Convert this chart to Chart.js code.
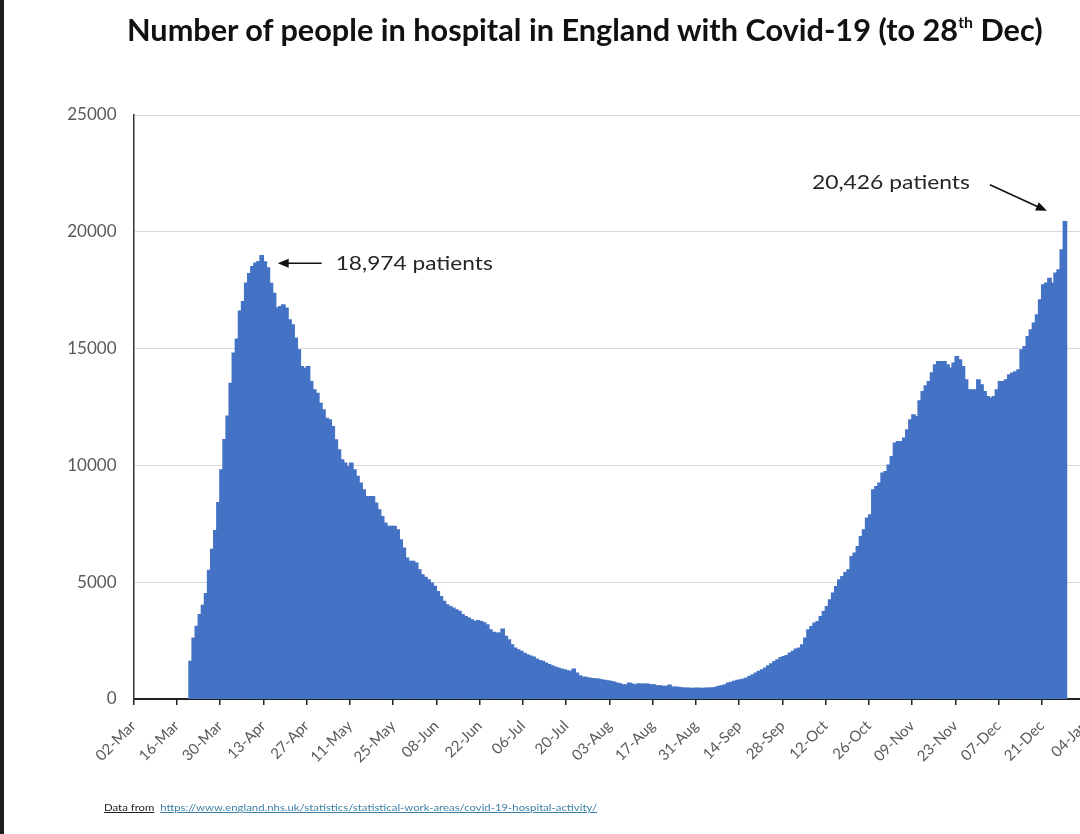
<!DOCTYPE html>
<html>
<head>
<meta charset="utf-8">
<script src="https://cdn.jsdelivr.net/npm/chart.js@4"></script>
<style>
  html, body { margin:0; padding:0; width:1080px; height:834px; overflow:hidden; background:#ffffff; }
  #wrap { position:absolute; left:0; top:0; width:1100px; height:834px; }
  #title { position:absolute; left:127px; top:14px; font-family:Lato, 'Open Sans', sans-serif; font-weight:700; font-size:31px; line-height:31px; color:#111; white-space:nowrap; transform-origin:0 0; }
  #title sup { font-size:16px; line-height:0; vertical-align:13px; }
  #foot { position:absolute; left:104px; top:801px; font-family:Lato, sans-serif; font-size:10px; line-height:12px; white-space:nowrap; transform-origin:0 0; }
  #foot .lbl { color:#222; text-decoration:underline; }
  #foot .url { color:#3d7fa6; text-decoration:underline; }
  #edge { position:absolute; left:0; top:0; width:4px; height:834px; background:#1e1e1e; }
</style>
</head>
<body>
<div id="wrap"><canvas id="c" width="1100" height="834"></canvas></div>
<div id="title">Number of people in hospital in England with Covid-19 (to 28<sup>th</sup> Dec)</div>
<div id="foot"><span class="lbl">Data from</span>&nbsp; <span class="url">https://www.england.nhs.uk/statistics/statistical-work-areas/covid-19-hospital-activity/</span></div>
<div id="edge"></div>
<script>
// ---- data ----
const tickLabels = ['02-Mar','16-Mar','30-Mar','13-Apr','27-Apr','11-May','25-May','08-Jun','22-Jun','06-Jul','20-Jul','03-Aug','17-Aug','31-Aug','14-Sep','28-Sep','12-Oct','26-Oct','09-Nov','23-Nov','07-Dec','21-Dec','04-Jan'];
const tickStepDays = 14;
const firstDataDay = 18; // 20-Mar, counted in days after 02-Mar
const yTicks = [0, 5000, 10000, 15000, 20000, 25000];
const patients = [
  1600, 2600, 3100, 3600, 4000, 4500, 5500, 6400, 7200, 8400,
  9800, 11100, 12100, 13500, 14800, 15400, 16600, 17000, 17800, 18200,
  18500, 18650, 18720, 18974, 18700, 18450, 17790, 17360, 16720, 16790,
  16860, 16720, 16220, 16010, 15440, 14940, 14220, 14150, 14220, 13580,
  13230, 13080, 12650, 12370, 12010, 11940, 11650, 11090, 10660, 10230,
  10090, 9940, 10090, 9800, 9520, 9230, 8950, 8660, 8660, 8660,
  8380, 8090, 7800, 7520, 7380, 7380, 7380, 7230, 6800, 6450,
  6020, 5880, 5880, 5810, 5520, 5310, 5200, 5090, 4950, 4810,
  4590, 4380, 4170, 4020, 3950, 3880, 3810, 3740, 3600, 3520,
  3450, 3380, 3310, 3350, 3300, 3250, 3170, 2950, 2840, 2810,
  2810, 2980, 2670, 2520, 2310, 2170, 2100, 2030, 1950, 1880,
  1830, 1780, 1700, 1640, 1600, 1530, 1460, 1410, 1360, 1310,
  1270, 1240, 1200, 1170, 1270, 1100, 985, 927, 913, 884,
  870, 856, 842, 813, 785, 770, 742, 713, 670, 642,
  599, 599, 670, 627, 599, 642, 627, 627, 627, 599,
  599, 556, 556, 528, 528, 585, 499, 499, 485, 471,
  456, 460, 452, 448, 455, 450, 445, 458, 462, 471,
  485, 528, 556, 599, 670, 699, 742, 785, 815, 842,
  884, 956, 1027, 1098, 1170, 1241, 1312, 1412, 1498, 1597,
  1669, 1769, 1810, 1854, 1954, 2026, 2126, 2168, 2311, 2597,
  2953, 3096, 3238, 3310, 3524, 3738, 3952, 4237, 4523, 4808,
  5093, 5236, 5400, 5521, 6092, 6234, 6520, 6948, 7233, 7733,
  7875, 8945, 9088, 9231, 9660, 9730, 10000, 10371, 10942, 11013,
  11013, 11156, 11513, 11941, 12155, 12084, 12760, 13150, 13400, 13582,
  13950, 14295, 14438, 14438, 14438, 14295, 14153, 14366, 14652, 14509,
  14224, 13653, 13225, 13225, 13225, 13653, 13439, 13154, 12939, 12868,
  12939, 13225, 13582, 13582, 13653, 13867, 13938, 14000, 14081, 14937,
  15080, 15508, 15794, 16078, 16435, 17077, 17719, 17800, 18004, 17792,
  18219, 18361, 19217, 20426
];
const firstPeakValue = 18974;
const lastValue = 20426;

// ---- chart ----
const points = patients.map((v, i) => ({ x: firstDataDay + i + 0.5, y: v }));
const LABEL_FONT = 'Lato, "Open Sans", sans-serif';

function arrow(ctx, x1, y1, x2, y2) {
  const ang = Math.atan2(y2 - y1, x2 - x1);
  const L = 11, W = 4.5;
  ctx.save();
  ctx.strokeStyle = '#111'; ctx.fillStyle = '#111'; ctx.lineWidth = 1.6;
  ctx.beginPath();
  ctx.moveTo(x1, y1);
  ctx.lineTo(x2 - Math.cos(ang) * L * 0.8, y2 - Math.sin(ang) * L * 0.8);
  ctx.stroke();
  ctx.beginPath();
  ctx.moveTo(x2, y2);
  ctx.lineTo(x2 - Math.cos(ang) * L + Math.sin(ang) * W, y2 - Math.sin(ang) * L - Math.cos(ang) * W);
  ctx.lineTo(x2 - Math.cos(ang) * L - Math.sin(ang) * W, y2 - Math.sin(ang) * L + Math.cos(ang) * W);
  ctx.closePath();
  ctx.fill();
  ctx.restore();
}
function fitText(ctx, text, x, y, width, align) {
  ctx.save();
  ctx.font = '20px ' + LABEL_FONT;
  const w = ctx.measureText(text).width;
  ctx.translate(x, y);
  ctx.scale(width / w, 1);
  ctx.fillStyle = '#262626';
  ctx.textAlign = align;
  ctx.textBaseline = 'middle';
  ctx.fillText(text, 0, 0);
  ctx.restore();
}

const annotations = {
  id: 'annotations',
  afterDatasetsDraw(chart) {
    const { ctx, scales: { x, y } } = chart;
    const iPeak = patients.indexOf(firstPeakValue);
    const px = x.getPixelForValue(firstDataDay + iPeak + 0.5);
    const py = y.getPixelForValue(firstPeakValue);
    arrow(ctx, px + 60, py + 7.5, px + 16, py + 7.5);
    fitText(ctx, firstPeakValue.toLocaleString('en-GB') + ' patients', px + 74, py + 8, 157, 'left');

    const iLast = patients.length - 1;
    const lx = x.getPixelForValue(firstDataDay + iLast + 0.5);
    const ly = y.getPixelForValue(lastValue);
    arrow(ctx, lx - 75, ly - 37, lx - 18, ly - 11);
    fitText(ctx, lastValue.toLocaleString('en-GB') + ' patients', lx - 95, ly - 39, 158, 'right');
  }
};

new Chart(document.getElementById('c'), {
  type: 'bar',
  data: {
    datasets: [{
      data: points,
      backgroundColor: '#4472C4',
      borderWidth: 0,
      inflateAmount: 0.8,
      barPercentage: 1,
      categoryPercentage: 1
    }]
  },
  options: {
    responsive: false,
    animation: false,
    devicePixelRatio: 1,
    layout: { padding: { top: 115, left: 0, right: 15, bottom: 55 } },
    plugins: { legend: { display: false }, tooltip: { enabled: false }, title: { display: false } },
    scales: {
      x: {
        type: 'linear',
        min: 0,
        max: (tickLabels.length - 1) * tickStepDays,
        offset: false,
        ticks: {
          stepSize: tickStepDays,
          autoSkip: false,
          minRotation: 45,
          maxRotation: 45,
          padding: 12,
          color: '#595959',
          font: { family: LABEL_FONT, size: 15 },
          callback: v => tickLabels[Math.round(v / tickStepDays)]
        },
        grid: { offset: false, drawOnChartArea: false, drawTicks: true, tickLength: 6, color: '#222', lineWidth: 1.5 },
        border: { display: true, color: '#222', width: 2 },
        afterFit: s => { s.height = 80; s.paddingLeft = 0; s.paddingRight = 0; }
      },
      y: {
        min: yTicks[0],
        max: yTicks[yTicks.length - 1],
        afterBuildTicks: s => { s.ticks = yTicks.map(v => ({ value: v })); },
        ticks: {
          padding: 17,
          color: '#595959',
          font: { family: LABEL_FONT, size: 17 },
          callback: v => String(v)
        },
        grid: { color: '#d9d9d9', lineWidth: 1, drawTicks: false },
        border: { display: true, color: '#333', width: 1.5 },
        afterFit: s => { s.width = 133.5; s.paddingTop = 0; s.paddingBottom = 0; }
      }
    }
  },
  plugins: [annotations]
});

// fit the HTML texts to the widths they take in the reference
function fitWidth(id, target) {
  const el = document.getElementById(id);
  const w = el.offsetWidth;
  el.style.transform = 'scaleX(' + (target / w) + ')';
}
fitWidth('title', 916);
fitWidth('foot', 493);
</script>
</body>
</html>
